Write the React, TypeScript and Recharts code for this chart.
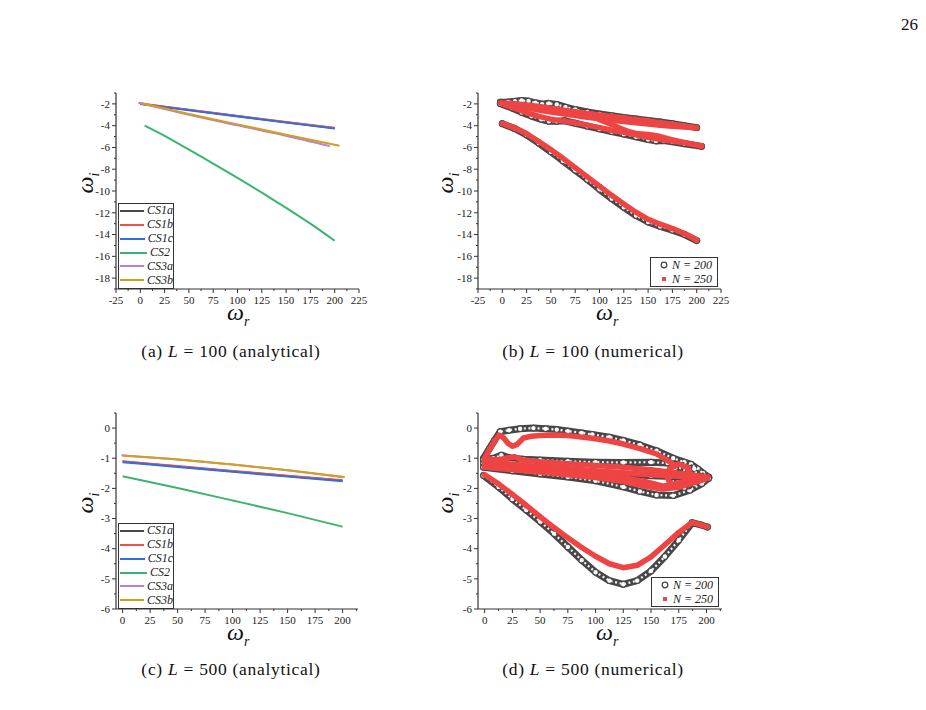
import React from 'react';
import { LineChart, Line, ScatterChart, Scatter, XAxis, YAxis, Legend } from 'recharts';

const FONT = '"Liberation Serif", "Times New Roman", serif';

// ---- ticks ----
const X_MAJ_AB = [-25, 0, 25, 50, 75, 100, 125, 150, 175, 200, 225];
const X_MIN_AB = [-12.5, 12.5, 37.5, 62.5, 87.5, 112.5, 137.5, 162.5, 187.5, 212.5];
const Y_MAJ_AB = [-18, -16, -14, -12, -10, -8, -6, -4, -2];
const Y_MIN_AB = [-19, -17, -15, -13, -11, -9, -7, -5, -3, -1];
const X_MAJ_CD = [0, 25, 50, 75, 100, 125, 150, 175, 200];
const X_MIN_CD = [12.5, 37.5, 62.5, 87.5, 112.5, 137.5, 162.5, 187.5, 212.5];
const Y_MAJ_CD = [-6, -5, -4, -3, -2, -1, 0];
const Y_MIN_CD = [-5.5, -4.5, -3.5, -2.5, -1.5, -0.5, 0.5];

// ---- (a) L = 100 analytical ----
const CS1A_A = [[0, -1.98], [50, -2.55], [100, -3.12], [150, -3.68], [200, -4.22]];
const CS1B_A = [[0, -1.97], [50, -2.54], [100, -3.11], [150, -3.67], [200, -4.21]];
const CS1C_A = [[0, -2.02], [50, -2.59], [100, -3.16], [150, -3.72], [200, -4.27]];
const CS2_A = [[4.5, -3.99], [25, -4.93], [50, -6.2], [75, -7.48], [100, -8.8], [125, -10.15], [150, -11.55], [175, -13.0], [200, -14.57]];
const CS3A_A = [[-2, -1.9], [50, -2.99], [100, -3.97], [150, -4.92], [195, -5.88]];
const CS3B_A = [[1, -1.92], [50, -2.93], [100, -3.88], [150, -4.83], [205, -5.85]];

// ---- (c) L = 500 analytical ----
const CS1A_C = [[0, -1.11], [50, -1.27], [100, -1.43], [150, -1.59], [200, -1.74]];
const CS1B_C = [[0, -1.1], [50, -1.26], [100, -1.42], [150, -1.58], [200, -1.73]];
const CS1C_C = [[0, -1.13], [50, -1.29], [100, -1.45], [150, -1.61], [200, -1.76]];
const CS2_C = [[0, -1.6], [50, -1.99], [100, -2.4], [150, -2.82], [200, -3.27]];
const CS3A_C = [[-1, -0.9], [50, -1.04], [100, -1.21], [150, -1.4], [200, -1.63]];
const CS3B_C = [[0, -0.92], [50, -1.04], [100, -1.21], [150, -1.4], [202, -1.62]];

// ---- (b) L = 100 numerical ----
const N200_1_B = [[-2, -1.84], [6, -1.82], [13, -1.76], [20, -1.68], [27, -1.74], [34, -1.9], [41, -2.02], [48, -1.95], [56, -2.05], [65, -2.3], [75, -2.52], [87.5, -2.74], [100, -2.92], [112.5, -3.08], [125, -3.24], [137.5, -3.38], [150, -3.52], [162.5, -3.66], [175, -3.82], [187.5, -4.0], [200, -4.18]];
const N200_2_B = [[-2, -1.98], [10, -2.38], [20, -2.78], [30, -3.12], [40, -3.42], [48, -3.6], [56, -3.6], [64, -3.55], [75, -3.78], [87.5, -4.05], [100, -4.3], [112.5, -4.55], [125, -4.78], [137.5, -5.02], [150, -5.28], [158, -5.4], [166, -5.36], [175, -5.48], [187.5, -5.66], [205, -5.9]];
const N200_3_B = [[0, -3.82], [12.5, -4.25], [25, -4.85], [37.5, -5.6], [50, -6.4], [62.5, -7.25], [75, -8.1], [87.5, -8.95], [100, -9.85], [112.5, -10.7], [125, -11.5], [137.5, -12.25], [150, -12.85], [162.5, -13.25], [175, -13.6], [187.5, -14.0], [200, -14.55]];
const N250_1_B = [[-2, -1.9], [12.5, -1.98], [25, -2.1], [37.5, -2.24], [50, -2.4], [62.5, -2.57], [75, -2.73], [87.5, -2.88], [100, -3.02], [112.5, -3.16], [125, -3.3], [137.5, -3.44], [150, -3.58], [162.5, -3.72], [175, -3.87], [187.5, -4.03], [200, -4.2]];
const N250_2_B = [[0, -1.95], [12.5, -2.15], [25, -2.36], [37.5, -2.56], [50, -2.74], [62.5, -2.92], [75, -3.08], [87.5, -3.22], [100, -3.36], [112.5, -3.5], [125, -3.62], [137.5, -3.74], [150, -3.85], [162.5, -3.96], [175, -4.05], [187.5, -4.13], [200, -4.2]];
const N250_3_B = [[0, -2.0], [12.5, -2.4], [25, -2.8], [37.5, -3.15], [50, -3.4], [62.5, -3.58], [75, -3.74], [87.5, -3.95], [100, -4.18], [112.5, -4.42], [125, -4.62], [137.5, -4.84], [150, -5.06], [162.5, -5.24], [175, -5.4], [187.5, -5.58], [205, -5.86]];
const N250_4_B = [[100, -3.45], [110, -3.8], [120, -4.2], [130, -4.55], [140, -4.75], [150, -4.8], [160, -4.95], [170, -5.2], [182, -5.45], [195, -5.68], [205, -5.86]];
const N250_5_B = [[0, -3.8], [12.5, -4.2], [25, -4.75], [37.5, -5.45], [50, -6.2], [62.5, -7.0], [75, -7.85], [87.5, -8.7], [100, -9.55], [112.5, -10.4], [125, -11.2], [137.5, -11.95], [150, -12.6], [162.5, -13.05], [175, -13.45], [187.5, -13.9], [200, -14.5]];

// ---- (d) L = 500 numerical ----
const N200_ARC_D = [[-1, -1.0], [4, -0.7], [9, -0.4], [14, -0.12], [22, -0.07], [32, -0.02], [44, 0.0], [55, -0.02], [65, -0.05], [75, -0.1], [87.5, -0.16], [97, -0.21], [112.5, -0.3], [125, -0.41], [140, -0.56], [155, -0.75], [170, -1.0], [180, -1.13], [186, -1.2], [192, -1.35], [197, -1.5], [202, -1.63]];
const N200_UP_D = [[-1, -1.05], [8, -1.0], [15, -0.9], [22, -0.98], [35, -1.03], [50, -1.06], [75, -1.1], [100, -1.13], [125, -1.14], [150, -1.13], [165, -1.16], [175, -1.3], [186, -1.5], [202, -1.64]];
const N200_MID_D = [[-1, -1.18], [50, -1.32], [100, -1.46], [150, -1.58], [202, -1.65]];
const N200_LOW_D = [[-1, -1.3], [25, -1.42], [50, -1.52], [75, -1.62], [100, -1.75], [125, -1.95], [140, -2.1], [155, -2.22], [170, -2.24], [185, -2.06], [196, -1.84], [202, -1.66]];
const N200_RING_D = [[168, -1.6], [171, -1.35], [180, -1.24], [189, -1.35], [192, -1.6], [189, -1.86], [180, -1.97], [171, -1.86], [168, -1.6]];
const N200_BOT_D = [[-1, -1.57], [12.5, -1.95], [25, -2.35], [37.5, -2.72], [50, -3.1], [62.5, -3.5], [75, -3.94], [87.5, -4.38], [100, -4.78], [112.5, -5.06], [125, -5.18], [137.5, -5.06], [150, -4.74], [162.5, -4.26], [175, -3.72], [187, -3.14], [194, -3.2], [201, -3.28]];
const N250_ARC_D = [[0, -1.0], [3, -0.8], [6.5, -0.58], [10, -0.38], [13, -0.23], [17, -0.32], [21, -0.5], [25, -0.6], [29, -0.55], [35, -0.33], [42, -0.27], [50, -0.25], [62.5, -0.23], [75, -0.25], [87.5, -0.3], [97, -0.34], [112.5, -0.43], [125, -0.53], [140, -0.68], [155, -0.86], [166, -1.1], [172, -1.25]];
const N250_RING_D = [[164, -1.57], [167, -1.33], [175, -1.19], [183, -1.31], [186, -1.57], [183, -1.83], [175, -1.95], [167, -1.83], [164, -1.57]];
const N250_F1_D = [[0, -1.02], [12, -1.05], [20, -1.0], [27, -0.95], [33, -1.05], [50, -1.12], [75, -1.18], [100, -1.24], [125, -1.3], [150, -1.38], [175, -1.5], [201, -1.62]];
const N250_F2_D = [[0, -1.12], [25, -1.2], [50, -1.28], [75, -1.35], [100, -1.42], [125, -1.49], [150, -1.55], [175, -1.6], [201, -1.62]];
const N250_F3_D = [[0, -1.22], [25, -1.3], [50, -1.38], [75, -1.47], [100, -1.56], [125, -1.65], [145, -1.78], [161, -1.93], [172, -1.84], [185, -1.72], [201, -1.63]];
const N250_F4_D = [[0, -1.3], [25, -1.38], [50, -1.46], [75, -1.55], [100, -1.64], [125, -1.77], [145, -1.93], [160, -2.02], [175, -1.96], [190, -1.8], [201, -1.66]];
const N250_BOT_D = [[0, -1.55], [12.5, -1.85], [25, -2.2], [37.5, -2.56], [50, -2.94], [62.5, -3.3], [75, -3.64], [87.5, -3.96], [100, -4.25], [112.5, -4.5], [125, -4.63], [137.5, -4.55], [150, -4.27], [162.5, -3.87], [175, -3.46], [187, -3.13], [194, -3.2], [201, -3.28]];

const CS_NAMES = ['CS1a', 'CS1b', 'CS1c', 'CS2', 'CS3a', 'CS3b'];
const CS_COLORS = ['#4a4a4a', '#f0504c', '#2f6fe0', '#3db46d', '#b47fe0', '#d4a017'];
const N_NAMES = ['N = 200', 'N = 250'];

const BLACK = '#474747';
const RED = '#ef4444';

const pts = (a: number[][]) => a.map(([x, y]) => ({ x, y }));

type Side = 'bottom' | 'top' | 'left' | 'right';
function makeTick(side: Side, majors: number[], showLabel: boolean) {
  return (p: any) => {
    const v = p.payload.value as number;
    const major = majors.some((m) => Math.abs(m - v) < 1e-6);
    const len = major ? 4 : 2;
    const x = p.x as number;
    const y = p.y as number;
    const txt = { fill: '#222', stroke: 'none', fontSize: 11, fontFamily: FONT };
    if (side === 'bottom')
      return (
        <g>
          <line x1={x} y1={y} x2={x} y2={y + len} stroke="#333" />
          {showLabel && major && <text x={x} y={y + 15} textAnchor="middle" {...txt}>{v}</text>}
        </g>
      );
    if (side === 'top') return <line x1={x} y1={y} x2={x} y2={y - len} stroke="#333" />;
    if (side === 'left')
      return (
        <g>
          <line x1={x} y1={y} x2={x - len} y2={y} stroke="#333" />
          {showLabel && major && <text x={x - 6} y={y + 3.8} textAnchor="end" {...txt}>{v}</text>}
        </g>
      );
    return <line x1={x} y1={y} x2={x + len} y2={y} stroke="#333" />;
  };
}

type Box = { L: number; R: number; T: number; B: number };
const BOX_A: Box = { L: 116, R: 359, T: 93, B: 289 };
const BOX_B: Box = { L: 478, R: 721, T: 93, B: 289 };
const BOX_C: Box = { L: 116, R: 358, T: 413, B: 609 };
const BOX_D: Box = { L: 478, R: 722, T: 413, B: 609 };

const frame = (b: Box) => ({ left: b.L - 50, top: b.T - 10, width: b.R - b.L + 60, height: b.B - b.T + 40 });
const MARGIN = { top: 10, right: 10, bottom: 0, left: 0 };
const AXL = { stroke: '#333', strokeWidth: 1.2 };

function axes(xd: number[], xMaj: number[], xMin: number[], yd: number[], yMaj: number[], yMin: number[]) {
  const common = { type: 'number' as const, allowDataOverflow: true, interval: 0 as const, tickSize: 0, tickMargin: 0, tickLine: false, axisLine: AXL };
  return [
    <XAxis key="xb" xAxisId="b" orientation="bottom" dataKey="x" domain={xd} ticks={[...xMaj, ...xMin]} height={30} tick={makeTick('bottom', xMaj, true)} {...common} />,
    <XAxis key="xt" xAxisId="t" orientation="top" dataKey="x" domain={xd} ticks={[...xMaj, ...xMin]} height={0} tick={makeTick('top', xMaj, false)} {...common} />,
    <YAxis key="yl" yAxisId="l" orientation="left" dataKey="y" domain={yd} ticks={[...yMaj, ...yMin]} width={50} tick={makeTick('left', yMaj, true)} {...common} />,
    <YAxis key="yr" yAxisId="r" orientation="right" dataKey="y" domain={yd} ticks={[...yMaj, ...yMin]} width={0} tick={makeTick('right', yMaj, false)} {...common} />,
  ];
}

function lineLegend() {
  return (
    <div style={{ border: '1px solid #333', background: '#fff', width: 54, paddingBottom: 1, fontFamily: FONT }}>
      {CS_NAMES.map((n, i) => (
        <div key={n} style={{ display: 'flex', alignItems: 'center', height: 13.86 }}>
          <span style={{ display: 'inline-block', width: 27, height: 2, marginLeft: 1, background: CS_COLORS[i] }} />
          <span style={{ marginLeft: 3, fontStyle: 'italic', fontSize: 12, color: '#222' }}>{n}</span>
        </div>
      ))}
    </div>
  );
}

function scatterLegend() {
  return (
    <div style={{ border: '1px solid #333', background: '#fff', width: 66, height: 28, fontFamily: FONT }}>
      {N_NAMES.map((n, i) => (
        <div key={n} style={{ display: 'flex', alignItems: 'center', height: 14 }}>
          <svg width={20} height={14} style={{ display: 'block' }}>
            {i === 0 ? (
              <circle cx={13} cy={7} r={2.8} fill="#fff" stroke={BLACK} strokeWidth={1.3} />
            ) : (
              <rect x={11} y={5} width={4} height={4} fill={RED} />
            )}
          </svg>
          <span style={{ marginLeft: 1, fontStyle: 'italic', fontSize: 12, color: '#222' }}>{n}</span>
        </div>
      ))}
    </div>
  );
}

function LinePanel({ box, series }: { box: Box; series: number[][][]; }) {
  const f = frame(box);
  const isA = box.T < 200;
  return (
    <div style={{ position: 'absolute', left: f.left, top: f.top }}>
      <LineChart width={f.width} height={f.height} margin={MARGIN}>
        {isA
          ? axes([-25, 225], X_MAJ_AB, X_MIN_AB, [-19, -1], Y_MAJ_AB, Y_MIN_AB)
          : axes([-6, 214], X_MAJ_CD, X_MIN_CD, [-6, 0.5], Y_MAJ_CD, Y_MIN_CD)}
        {series.map((s, i) => (
          <Line key={CS_NAMES[i]} name={CS_NAMES[i]} xAxisId="b" yAxisId="l" data={pts(s)} dataKey="y" type="monotone"
            stroke={CS_COLORS[i]} strokeWidth={2} dot={false} isAnimationActive={false} />
        ))}
        <Legend content={lineLegend} layout="vertical" align="center" verticalAlign="middle"
          wrapperStyle={{ left: 52, top: box.B - 86 - f.top, width: 56, height: 86 }} />
      </LineChart>
    </div>
  );
}

const hollow = (p: any) => <circle cx={p.cx} cy={p.cy} r={2.8} fill="#fff" stroke={BLACK} strokeWidth={1.2} />;
const square = (p: any) => <rect x={p.cx - 2} y={p.cy - 2} width={4} height={4} fill={RED} />;
const none = () => <g />;

function ScatterPanel({ box, black, red }: { box: Box; black: number[][][]; red: number[][][] }) {
  const f = frame(box);
  const isB = box.T < 200;
  return (
    <div style={{ position: 'absolute', left: f.left, top: f.top }}>
      <ScatterChart width={f.width} height={f.height} margin={MARGIN}>
        {isB
          ? axes([-25, 225], X_MAJ_AB, X_MIN_AB, [-19, -1], Y_MAJ_AB, Y_MIN_AB)
          : axes([-6, 214], X_MAJ_CD, X_MIN_CD, [-6, 0.5], Y_MAJ_CD, Y_MIN_CD)}
        {black.map((s, i) => (
          <Scatter key={'b' + i} name="N = 200" xAxisId="b" yAxisId="l" data={pts(s)} fill={BLACK}
            line={{ stroke: BLACK, strokeWidth: 7, strokeLinecap: 'round', strokeLinejoin: 'round' }} lineType="joint"
            shape={hollow} isAnimationActive={false} />
        ))}
        {black.map((s, i) => (
          <Scatter key={'w' + i} xAxisId="b" yAxisId="l" data={pts(s)} fill="#fff"
            line={{ stroke: '#f4f4f4', strokeWidth: 2.2, strokeDasharray: '2 2.6' }} lineType="joint"
            shape={none} isAnimationActive={false} />
        ))}
        {red.map((s, i) => (
          <Scatter key={'r' + i} name="N = 250" xAxisId="b" yAxisId="l" data={pts(s)} fill={RED}
            line={{ stroke: RED, strokeWidth: 5.5, strokeLinecap: 'round', strokeLinejoin: 'round' }} lineType="joint"
            shape={square} isAnimationActive={false} />
        ))}
        <Legend content={scatterLegend} layout="vertical" align="center" verticalAlign="middle"
          wrapperStyle={{ left: box.R - 3 - 68 - f.left, top: box.B - 2 - 30 - f.top, width: 68, height: 30 }} />
      </ScatterChart>
    </div>
  );
}

function OmegaX({ left, top }: { left: number; top: number }) {
  return (
    <div style={{ position: 'absolute', left, top, fontFamily: FONT, fontStyle: 'italic', fontSize: 24, lineHeight: '10px', color: '#111', whiteSpace: 'nowrap' }}>
      ω<span style={{ fontSize: 14, position: 'relative', top: 6 }}>r</span>
    </div>
  );
}

function OmegaY({ cx, cy }: { cx: number; cy: number }) {
  return (
    <div style={{ position: 'absolute', left: cx - 15, top: cy - 12, width: 30, height: 24, textAlign: 'center', transform: 'rotate(-90deg)', fontFamily: FONT, fontStyle: 'italic', fontSize: 24, lineHeight: '24px', color: '#111', whiteSpace: 'nowrap' }}>
      ω<span style={{ fontSize: 14, position: 'relative', top: 6 }}>i</span>
    </div>
  );
}

function Caption({ cx, cy, children }: { cx: number; cy: number; children: React.ReactNode }) {
  return (
    <div style={{ position: 'absolute', left: cx - 150, top: cy - 10, width: 300, textAlign: 'center', fontFamily: FONT, fontSize: 17.5, letterSpacing: 0.7, lineHeight: '20px', color: '#111' }}>
      {children}
    </div>
  );
}

export default function App() {
  return (
    <div style={{ position: 'absolute', left: 0, top: 0, width: 926, height: 710, background: '#fff', overflow: 'hidden' }}>
      <div style={{ position: 'absolute', right: 8, top: 15, fontFamily: FONT, fontSize: 17, color: '#111' }}>26</div>

      <LinePanel box={BOX_A} series={[CS1A_A, CS1B_A, CS1C_A, CS2_A, CS3A_A, CS3B_A]} />
      <ScatterPanel box={BOX_B} black={[N200_1_B, N200_2_B, N200_3_B]} red={[N250_1_B, N250_2_B, N250_3_B, N250_4_B, N250_5_B]} />
      <LinePanel box={BOX_C} series={[CS1A_C, CS1B_C, CS1C_C, CS2_C, CS3A_C, CS3B_C]} />
      <ScatterPanel box={BOX_D}
        black={[N200_ARC_D, N200_UP_D, N200_MID_D, N200_LOW_D, N200_RING_D, N200_BOT_D]}
        red={[N250_ARC_D, N250_RING_D, N250_F1_D, N250_F2_D, N250_F3_D, N250_F4_D, N250_BOT_D]} />

      <OmegaX left={227} top={307} />
      <OmegaX left={596} top={307} />
      <OmegaX left={227} top={627} />
      <OmegaX left={596} top={627} />
      <OmegaY cx={85} cy={183} />
      <OmegaY cx={445} cy={183} />
      <OmegaY cx={85} cy={503} />
      <OmegaY cx={445} cy={503} />

      <Caption cx={231} cy={351}>(a) <i>L</i> = 100 (analytical)</Caption>
      <Caption cx={593} cy={351}>(b) <i>L</i> = 100 (numerical)</Caption>
      <Caption cx={231} cy={669}>(c) <i>L</i> = 500 (analytical)</Caption>
      <Caption cx={593} cy={669}>(d) <i>L</i> = 500 (numerical)</Caption>
    </div>
  );
}
